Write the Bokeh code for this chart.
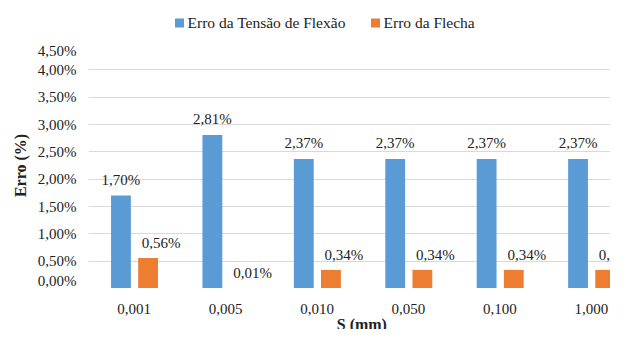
from bokeh.plotting import figure
from bokeh.layouts import column
from bokeh.models import Range1d, FixedTicker
from bokeh.core.properties import value
from bokeh.embed import file_html
from bokeh.resources import INLINE

categories = ["0,001", "0,005", "0,010", "0,050", "0,100", "1,000"]
erro_tensao = [1.70, 2.81, 2.37, 2.37, 2.37, 2.37]
erro_flecha = [0.56, 0.01, 0.34, 0.34, 0.34, 0.34]
y_ticks = [0.0, 0.5, 1.0, 1.5, 2.0, 2.5, 3.0, 3.5, 4.0, 4.5]
series_names = ["Erro da Tensão de Flexão", "Erro da Flecha"]
x_title = "S (mm)"
y_title = "Erro (%)"

def pct(v):
    return f"{v:.2f}%".replace(".", ",")

FONT = "Liberation Serif"
TXT = "#222222"
BLUE = "#5B9BD5"
ORANGE = "#ED7D31"
GRID = "#d9d9d9"
W = 610
LEFT = 88

# ---- legend strip (pixel coordinates inside its frame) ----
pl = figure(width=W, height=42, output_backend="svg", toolbar_location=None,
            x_axis_location=None, y_axis_location=None,
            x_range=Range1d(LEFT, W), y_range=Range1d(0, 42),
            min_border_left=LEFT, min_border_right=0, min_border_top=0, min_border_bottom=0)
pl.outline_line_color = None
pl.grid.visible = False
pl.rect(x=[179, 375], y=[19.5, 19.5], width=9, height=9,
        fill_color=[BLUE, ORANGE], line_color=None)
pl.text(x=[187, 383], y=[20, 20], text=series_names, text_align="left",
        text_baseline="middle", text_font=value(FONT), text_font_size="15.5px",
        text_color=TXT)

# ---- main chart ----
idx = list(range(len(categories)))
xb = [i - 0.145 for i in idx]
xo = [i + 0.152 for i in idx]
xr = Range1d(-0.5, 5.21)

p = figure(width=W, height=246, output_backend="svg", toolbar_location=None,
           x_range=xr, y_range=Range1d(0, 4.5), x_axis_location=None,
           min_border_left=LEFT, min_border_top=0, min_border_right=0,
           min_border_bottom=0)
p.outline_line_color = None

p.vbar(x=xb, top=erro_tensao, width=0.217, fill_color=BLUE, line_color=None)
p.vbar(x=xo, top=erro_flecha, width=0.217, fill_color=ORANGE, line_color=None)

p.text(x=xb, y=erro_tensao, text=[pct(v) for v in erro_tensao], y_offset=-16,
       text_align="center", text_baseline="middle", text_font=value(FONT),
       text_font_size="15px", text_color=TXT)
p.text(x=xo, y=erro_flecha, text=[pct(v) for v in erro_flecha], y_offset=-15, x_offset=13,
       text_align="center", text_baseline="middle", text_font=value(FONT),
       text_font_size="15px", text_color=TXT)

p.xgrid.grid_line_color = None
p.ygrid.grid_line_color = GRID
p.ygrid.ticker = FixedTicker(ticks=y_ticks)

ya = p.yaxis[0]
ya.ticker = FixedTicker(ticks=y_ticks)
ya.major_label_overrides = {t: pct(t) for t in y_ticks}
ya.axis_line_color = None
ya.major_tick_line_color = None
ya.minor_tick_line_color = None
ya.major_tick_out = 0
ya.major_tick_in = 0
ya.major_label_standoff = 12
ya.major_label_text_font = FONT
ya.major_label_text_font_size = "15px"
ya.major_label_text_color = TXT
ya.axis_label = y_title
ya.axis_label_text_font = FONT
ya.axis_label_text_font_style = "bold"
ya.axis_label_text_font_size = "16px"
ya.axis_label_text_color = TXT
ya.axis_label_standoff = 6

# ---- category labels + x-axis title strip ----
pb = figure(width=W, height=41, output_backend="svg", toolbar_location=None,
            x_axis_location=None, y_axis_location=None,
            x_range=xr, y_range=Range1d(0, 41),
            min_border_left=LEFT, min_border_right=0, min_border_top=0, min_border_bottom=0)
pb.outline_line_color = None
pb.grid.visible = False
pb.text(x=idx, y=[21] * len(idx), text=categories, text_align="center",
        text_baseline="middle", text_font=value(FONT), text_font_size="15px",
        text_color=TXT)
pb.text(x=[2.49], y=[14], text=[x_title], text_align="center", text_baseline="top",
        text_font=value(FONT), text_font_style="bold", text_font_size="16px",
        text_color=TXT)

layout = column(pl, p, pb, spacing=0)
open("out.html", "w").write(file_html(layout, INLINE))
